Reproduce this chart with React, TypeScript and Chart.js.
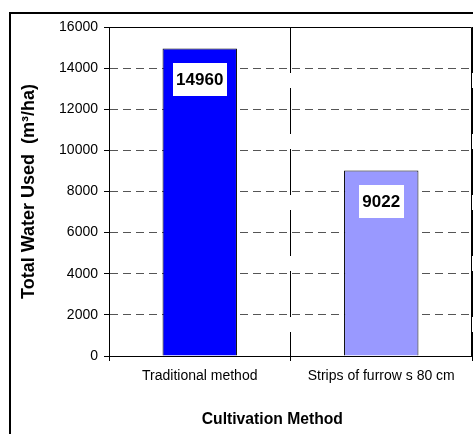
import React, { useEffect, useRef } from "react";
import { Chart, registerables } from "chart.js";

Chart.register(...registerables);

const categories: string[] = ["Traditional method", "Strips of furrow s 80 cm"];
const waterUsed: number[] = [14960, 9022];
const barColors: string[] = ["#0000FF", "#9999FF"];
const yTicksMin = 0;
const yTicksMax = 16000;
const yTicksStep = 2000;
const yTitle = "Total Water Used  (m\u00B3/ha)";
const xTitle = "Cultivation Method";

const FONT = "'Liberation Sans', Arial, Helvetica, sans-serif";

const framePlugin = {
  id: "frame",
  beforeDraw(chart: any) {
    const ctx = chart.ctx;
    ctx.save();
    ctx.fillStyle = "#fff";
    ctx.fillRect(0, 0, chart.width, chart.height);
    ctx.strokeStyle = "#000";
    ctx.lineWidth = 2;
    ctx.beginPath();
    ctx.moveTo(10, chart.height + 2);
    ctx.lineTo(10, 13);
    ctx.lineTo(chart.width + 2, 13);
    ctx.stroke();
    ctx.restore();
  },
  afterDraw(chart: any) {
    const { ctx, chartArea } = chart;
    const { left, right, top, bottom } = chartArea;
    ctx.save();
    ctx.strokeStyle = "#000";
    ctx.lineWidth = 1;
    ctx.setLineDash([]);
    ctx.beginPath();
    const t = Math.round(top) + 0.5;
    const r = Math.round(right) - 0.5;
    ctx.moveTo(left, t);
    ctx.lineTo(r, t);
    ctx.lineTo(r, bottom);
    ctx.stroke();
    // x-axis title
    ctx.fillStyle = "#000";
    ctx.font = `bold 15.7px ${FONT}`;
    ctx.textAlign = "center";
    ctx.textBaseline = "middle";
    ctx.fillText(xTitle, left + (right - left) * 0.45, chart.height - 14);
    ctx.restore();
  },
};

const labelPlugin = {
  id: "boxLabels",
  afterDatasetsDraw(chart: any) {
    const ctx = chart.ctx;
    const meta = chart.getDatasetMeta(0);
    ctx.save();
    ctx.font = `bold 17px ${FONT}`;
    ctx.textAlign = "center";
    ctx.textBaseline = "middle";
    meta.data.forEach((bar: any, i: number) => {
      const text = String(chart.data.datasets[0].data[i]);
      const w = ctx.measureText(text).width + 7;
      const h = 33;
      const cy = bar.y + 31;
      ctx.fillStyle = "#fff";
      ctx.fillRect(Math.round(bar.x - w / 2), Math.round(cy - h / 2), Math.round(w), h);
      ctx.fillStyle = "#000";
      ctx.fillText(text, bar.x, cy + 1);
    });
    ctx.restore();
  },
};

export default function App() {
  const ref = useRef<HTMLCanvasElement | null>(null);

  useEffect(() => {
    if (!ref.current) return;
    Chart.defaults.font.family = FONT;
    const chart = new Chart(ref.current, {
      type: "bar",
      data: {
        labels: categories,
        datasets: [
          {
            data: waterUsed,
            backgroundColor: barColors,
            borderColor: "#000",
            borderWidth: 1,
            barPercentage: 0.41,
            categoryPercentage: 1,
          },
        ],
      },
      options: {
        animation: false,
        responsive: false,
        devicePixelRatio: 1,
        layout: { padding: { top: 27, right: 1, left: 0, bottom: 0 } },
        plugins: {
          legend: { display: false },
          tooltip: { enabled: false },
        },
        scales: {
          x: {
            offset: true,
            afterFit: (scale: any) => {
              scale.height = 78;
            },
            grid: {
              offset: true,
              color: "#000",
              lineWidth: 1,
              drawTicks: true,
              tickLength: 5,
              tickColor: "#000",
              tickBorderDash: [],
            },
            border: { display: true, color: "#000", width: 1, dash: [46, 15] },
            ticks: {
              color: "#000",
              font: { size: 14, family: FONT },
              padding: 7,
              maxRotation: 0,
              autoSkip: false,
            },
          },
          y: {
            min: yTicksMin,
            max: yTicksMax,
            afterFit: (scale: any) => {
              scale.width = 109;
            },
            grid: {
              color: "#555",
              lineWidth: 1,
              drawTicks: true,
              tickLength: 5,
              tickColor: "#000",
              tickBorderDash: [],
            },
            border: { display: true, color: "#000", width: 1, dash: [8, 5] },
            ticks: {
              stepSize: yTicksStep,
              color: "#000",
              font: { size: 14, family: FONT },
              padding: 6,
              callback: (v: any) => String(v),
            },
            title: {
              display: true,
              text: yTitle,
              color: "#000",
              font: { size: 18, weight: "bold", family: FONT },
              padding: { top: 18, bottom: 0 },
            },
          },
        },
      },
      plugins: [framePlugin, labelPlugin],
    });
    return () => chart.destroy();
  }, []);

  return (
    <div style={{ position: "absolute", left: 0, top: 0, width: 473, height: 434 }}>
      <canvas ref={ref} width={473} height={434} />
    </div>
  );
}
